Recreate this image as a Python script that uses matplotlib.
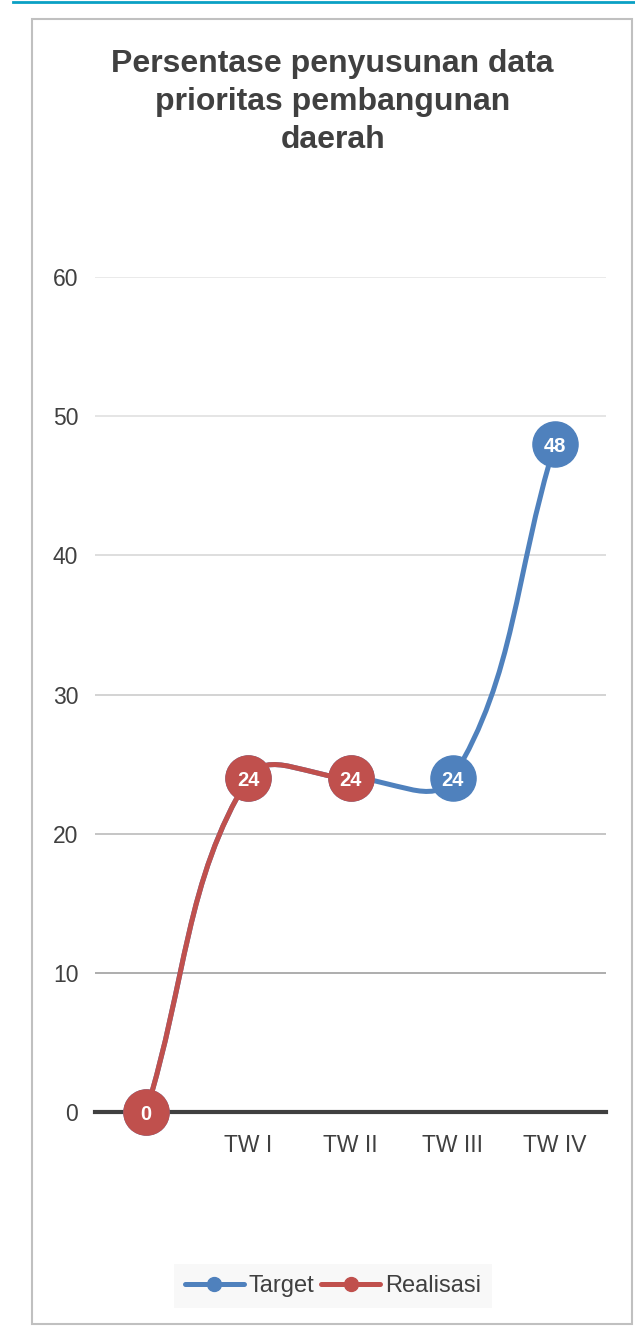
import numpy as np
import matplotlib
matplotlib.use("Agg")
import matplotlib.pyplot as plt
from matplotlib.path import Path
from matplotlib.patches import PathPatch, Rectangle
from matplotlib.lines import Line2D

# Data
categories = ["", "TW I", "TW II", "TW III", "TW IV"]
target = [0, 24, 24, 24, 48]
realisasi = [0, 24, 24]
y_ticks = [0, 10, 20, 30, 40, 50, 60]
title = "Persentase penyusunan data\nprioritas pembangunan\ndaerah"

blue = "#4f81bd"
red = "#c0504d"
text_col = "#404040"

plt.rcParams["font.family"] = ["Liberation Sans", "DejaVu Sans"]

fig = plt.figure(figsize=(6.35, 13.3), dpi=100)
ax = fig.add_axes([95 / 635, 1 - 1112 / 1330, 511 / 635, 835 / 1330])
ax.set_xlim(-0.5, len(categories) - 0.5)
ax.set_ylim(0, 60)

# Rahmen und Linie oben
fig.patches.append(Rectangle((32 / 635, 1 - 1324 / 1330), 600 / 635, 1305 / 1330,
                             transform=fig.transFigure, fill=False,
                             edgecolor="#c0c0c0", linewidth=1.5))
fig.lines.append(Line2D([13 / 635, 1], [1 - 1.5 / 1330] * 2, transform=fig.transFigure,
                        color="#0aa0c4", linewidth=2))

# Achsen
ax.set_xticks(range(len(categories)))
ax.set_xticklabels(categories)
ax.set_yticks(y_ticks)
ax.tick_params(axis="both", length=0, labelsize=16.5, colors=text_col)
ax.tick_params(axis="y", pad=12)
ax.tick_params(axis="x", pad=16)
for s in ["top", "right", "left"]:
    ax.spines[s].set_visible(False)
ax.spines["bottom"].set_color("#404040")
ax.spines["bottom"].set_linewidth(3)
ax.spines["bottom"].set_zorder(1)

grid_cols = ["#404040", "#a0a0a0", "#bbbbbb", "#cccccc", "#d8d8d8", "#e0e0e0", "#e6e6e6"]
for v, c in zip(y_ticks[1:], grid_cols[1:]):
    ax.axhline(v, color=c, linewidth=1.2, zorder=0)


def spline_path(xs, ys, tension=0.4):
    # Bezier-Kontrollpunkte wie Chart.js, in Pixeln berechnet
    pts = ax.transData.transform(np.column_stack([xs, ys]))
    n = len(pts)
    prev_c, next_c = [], []
    for i in range(n):
        p0 = pts[max(i - 1, 0)]
        p1 = pts[i]
        p2 = pts[min(i + 1, n - 1)]
        d01 = np.hypot(*(p1 - p0))
        d12 = np.hypot(*(p2 - p1))
        tot = d01 + d12
        s01 = d01 / tot if tot else 0
        s12 = d12 / tot if tot else 0
        prev_c.append(p1 - tension * s01 * (p2 - p0))
        next_c.append(p1 + tension * s12 * (p2 - p0))
    verts = [pts[0]]
    codes = [Path.MOVETO]
    for i in range(1, n):
        verts += [next_c[i - 1], prev_c[i], pts[i]]
        codes += [Path.CURVE4] * 3
    verts = ax.transData.inverted().transform(np.array(verts))
    return Path(verts, codes)


def draw_series(values, color, z):
    xs = np.arange(len(values))
    ax.add_patch(PathPatch(spline_path(xs, values), facecolor="none", edgecolor=color,
                           linewidth=3.6, capstyle="round", zorder=z, clip_on=False))
    ax.plot(xs, values, linestyle="none", marker="o", markersize=32.5,
            markerfacecolor=color, markeredgecolor=color, zorder=z + 1, clip_on=False)
    for x, v in zip(xs, values):
        ax.text(x, v, f"{v}", color="white", fontsize=14.5, fontweight="bold",
                ha="center", va="center_baseline", zorder=z + 2)


draw_series(target, blue, 3)
draw_series(realisasi, red, 6)

fig.text(0.524, 1 - 102 / 1330, title, ha="center", va="center", fontsize=23,
         fontweight="bold", color=text_col, linespacing=1.33)

handles = [Line2D([], [], color=blue, lw=3.6, marker="o", markersize=10, solid_capstyle="round"),
           Line2D([], [], color=red, lw=3.6, marker="o", markersize=10, solid_capstyle="round")]
leg = fig.legend(handles, ["Target", "Realisasi"], loc="center", ncol=2,
                 bbox_to_anchor=(0.524, 1 - 1286 / 1330), fontsize=17, frameon=True,
                 handlelength=2.5, handletextpad=0.2, columnspacing=0.3,
                 borderpad=0.45, borderaxespad=0)
leg.get_frame().set_facecolor("#f7f7f7")
leg.get_frame().set_edgecolor("none")
leg.get_frame().set_boxstyle("square", pad=0)
for t in leg.get_texts():
    t.set_color(text_col)

fig.savefig("out.png", dpi=100)
